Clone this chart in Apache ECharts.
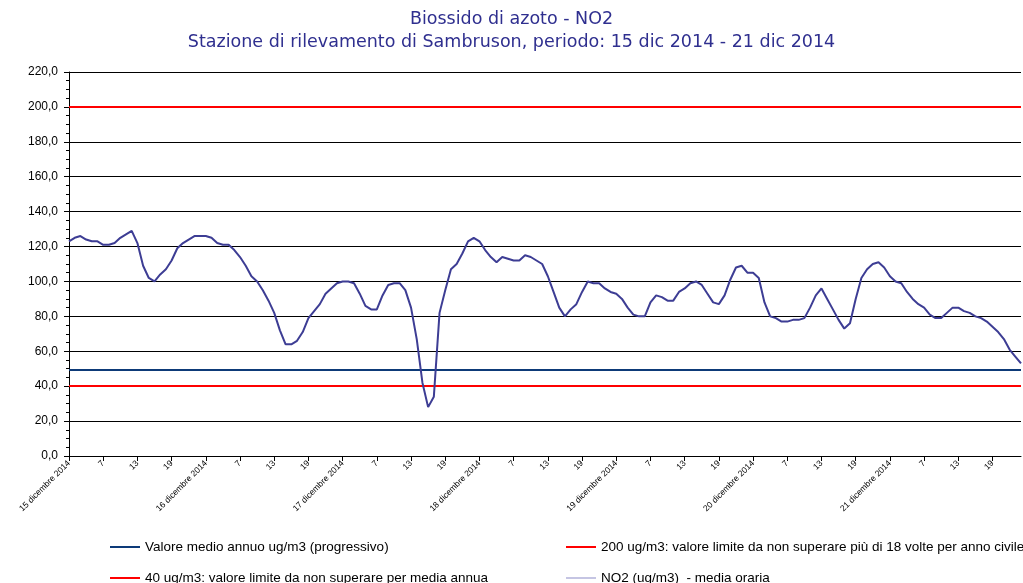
<!DOCTYPE html>
<html>
<head>
<meta charset="utf-8">
<script src="https://cdn.jsdelivr.net/npm/echarts@6/dist/echarts.min.js"></script>
<style>
  html, body { margin: 0; padding: 0; background: #fff; }
  #chart { width: 1023px; height: 583px; }
</style>
</head>
<body>
<div id="chart"></div>
<script>
// giorni del periodo (ore 1..24 per giorno)
const days = ['15 dicembre 2014', '16 dicembre 2014', '17 dicembre 2014', '18 dicembre 2014',
  '19 dicembre 2014', '20 dicembre 2014', '21 dicembre 2014']

// NO2 media oraria ug/m3, un array per giorno
const no2Day15 = [123, 125, 126, 124, 123, 123, 121, 121, 122, 125, 127, 129, 122, 109, 102, 100, 104, 107, 112, 119, 122, 124, 126, 126]
const no2Day16 = [126, 125, 122, 121, 121, 118, 114, 109, 103, 100, 95, 89, 82, 72, 64, 64, 66, 71, 79, 83, 87, 93, 96, 99]
const no2Day17 = [100, 100, 99, 93, 86, 84, 84, 92, 98, 99, 99, 95, 85, 67, 42, 28, 34, 82, 95, 107, 110, 116, 123, 125]
const no2Day18 = [123, 118, 114, 111, 114, 113, 112, 112, 115, 114, 112, 110, 103, 94, 85, 80, 84, 87, 94, 100, 99, 99, 96, 94]
const no2Day19 = [93, 90, 85, 81, 80, 80, 88, 92, 91, 89, 89, 94, 96, 99, 100, 98, 93, 88, 87, 92, 101, 108, 109, 105]
const no2Day20 = [105, 102, 88, 80, 79, 77, 77, 78, 78, 79, 85, 92, 96, 90, 84, 78, 73, 76, 90, 102, 107, 110, 111, 108]
const no2Day21 = [103, 100, 99, 94, 90, 87, 85, 81, 79, 79, 82, 85, 85, 83, 82, 80, 79, 77, 74, 71, 67, 61, 57, 53]

// valori di riferimento
const annualMean = 49.2
const limitHourly = 200
const limitAnnual = 40

const seriesNames = [
  'Valore medio annuo ug/m3 (progressivo)',
  '200 ug/m3: valore limite da non superare più di 18 volte per anno civile',
  '40 ug/m3: valore limite da non superare per media annua',
  'NO2 (ug/m3)  - media oraria'
]

let categories = []
days.forEach(d => {
  for (let h = 1; h <= 24; h++) {
    categories.push(h === 1 ? d : String(h))
  }
})
const no2 = [].concat(no2Day15, no2Day16, no2Day17, no2Day18, no2Day19, no2Day20, no2Day21)

function refLine(name, value, color) {
  return {
    name: name,
    type: 'line',
    data: [],
    symbol: 'none',
    itemStyle: {color: color},
    lineStyle: {color: color, width: 2},
    markLine: {
      silent: true,
      symbol: 'none',
      animation: false,
      label: {show: false},
      lineStyle: {color: color, width: 2, type: 'solid'},
      data: [{yAxis: value}]
    }
  }
}

// una legenda per voce, disposte su due colonne
function legendItem(name, left, top, color, h) {
  return {
    left: left,
    top: top,
    icon: 'rect',
    itemWidth: 30,
    itemHeight: h,
    itemStyle: {color: color},
    textStyle: {fontFamily: 'Liberation Sans', fontSize: 13.5, color: '#000'},
    data: [name]
  }
}

const myChart = echarts.init(document.getElementById('chart'))
const option = {
  animation: false,
  title: {
    text: 'Biossido di azoto - NO2',
    subtext: 'Stazione di rilevamento di Sambruson, periodo: 15 dic 2014 - 21 dic 2014',
    left: 'center',
    top: 5,
    itemGap: 5,
    textStyle: {fontFamily: 'DejaVu Sans', fontSize: 17.5, fontWeight: 'normal', color: '#2f2f8f'},
    subtextStyle: {fontFamily: 'DejaVu Sans', fontSize: 17.5, color: '#2f2f8f'}
  },
  legend: [
    legendItem(seriesNames[0], 105, 535, '#0d3a78', 2),
    legendItem(seriesNames[2], 105, 566, '#ff0000', 2),
    legendItem(seriesNames[1], 561, 535, '#ff0000', 2),
    legendItem(seriesNames[3], 561, 566, '#8a8ac6', 1)
  ],
  grid: {left: 69, right: 2, top: 72, bottom: 127, containLabel: false},
  xAxis: {
    type: 'category',
    data: categories,
    boundaryGap: false,
    axisLine: {lineStyle: {color: '#000', width: 1}},
    axisTick: {interval: 5, length: 5, lineStyle: {color: '#000'}},
    axisLabel: {
      interval: 5,
      rotate: 45,
      margin: 6,
      fontFamily: 'Liberation Sans',
      fontSize: 8.5,
      color: '#000'
    },
    splitLine: {show: false}
  },
  yAxis: {
    type: 'value',
    min: 0,
    max: 220,
    interval: 20,
    axisLine: {show: true, lineStyle: {color: '#000', width: 1}},
    axisTick: {show: true, length: 5, lineStyle: {color: '#000'}},
    minorTick: {show: true, splitNumber: 4, length: 3, lineStyle: {color: '#000'}},
    axisLabel: {
      margin: 11,
      fontFamily: 'Liberation Sans',
      fontSize: 12,
      color: '#000',
      formatter: v => v.toFixed(1).replace('.', ',')
    },
    splitLine: {show: true, lineStyle: {color: '#000', width: 1}}
  },
  series: [
    refLine(seriesNames[0], annualMean, '#0d3a78'),
    refLine(seriesNames[1], limitHourly, '#ff0000'),
    refLine(seriesNames[2], limitAnnual, '#ff0000'),
    {
      name: seriesNames[3],
      type: 'line',
      data: no2,
      symbol: 'none',
      itemStyle: {color: '#3d3d94'},
      lineStyle: {color: '#3d3d94', width: 2},
      z: 5
    }
  ]
}
option && myChart.setOption(option)
</script>
</body>
</html>
